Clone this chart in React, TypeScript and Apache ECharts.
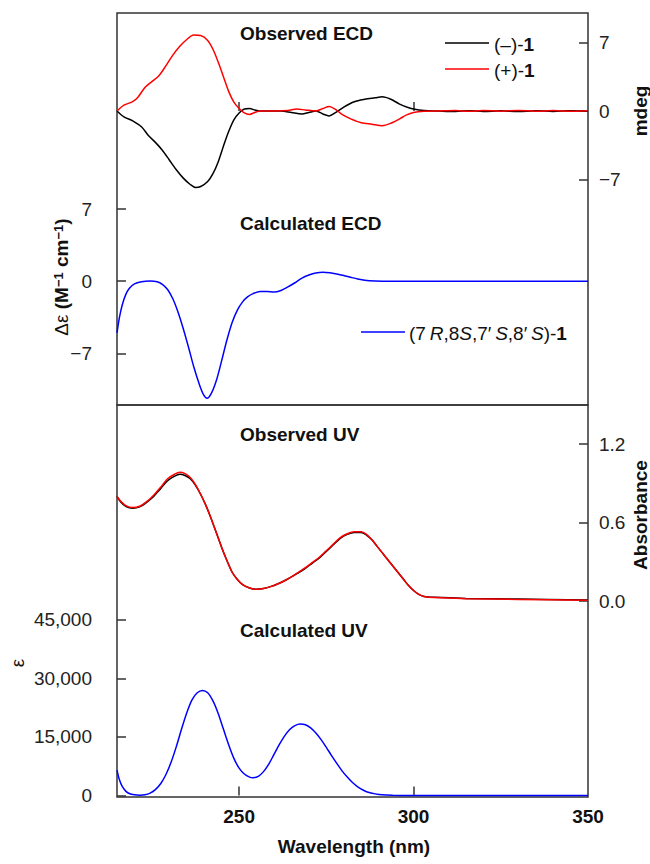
import React, { useEffect, useRef } from "react";
import * as echarts from "echarts";

// ---------------- data ----------------
const X_MIN = 215;
const X_MAX = 350;
const xTickValues = [250, 300];
const xLabelValues = [250, 300, 350];

// Observed ECD (mdeg), right axis of the upper panel
const ecdObsMinus: [number, number][] = [
  [215, 0], [217, -0.6], [219.5, -1.0], [222, -1.6], [224, -2.5], [226, -3.2], [228, -4.0],
  [230, -5.0], [232, -6.0], [234, -6.85], [236, -7.5], [237.5, -7.8], [239, -7.7], [241, -7.2],
  [242.5, -6.4], [244, -5.2], [245.5, -3.6], [247, -2.1], [248.5, -0.9], [250, -0.2],
  [251.5, 0.2], [253, 0.25], [254.5, 0.1], [256, 0], [262, 0], [265, -0.15], [268, -0.3],
  [270, -0.15], [272, 0], [274, -0.3], [275.8, -0.5], [277.5, -0.2], [280, 0.4], [283, 0.95],
  [286, 1.2], [289, 1.35], [291, 1.45], [293.5, 1.2], [296, 0.7], [298, 0.4], [300, 0.2],
  [303, 0.05], [307, 0], [312, -0.05], [316, 0.03], [320, -0.05], [325, 0.02], [330, -0.06],
  [335, 0.02], [340, -0.04], [345, 0.02], [350, -0.03],
];
const ecdObsPlus: [number, number][] = [
  [215, 0], [217, 0.6], [219.5, 0.95], [221, 1.4], [223, 2.4], [225, 3.0], [227, 3.6],
  [229, 4.6], [231, 5.7], [233, 6.6], [235, 7.3], [237, 7.75], [239, 7.7], [241, 7.2],
  [242.5, 6.3], [244, 5.0], [245.5, 3.5], [247, 2.0], [248.5, 0.9], [250, 0.25],
  [251.5, -0.2], [253, -0.35], [254.5, -0.15], [256, 0], [260, 0], [264, 0.05], [266.5, 0.2],
  [269, 0.1], [272, 0], [274, 0.25], [275.8, 0.45], [277.5, 0.2], [279.5, -0.35], [282, -0.8],
  [285, -1.2], [288, -1.35], [291, -1.5], [293.5, -1.25], [296, -0.8], [298, -0.4],
  [300, -0.15], [303, -0.03], [307, 0], [312, 0.05], [316, -0.03], [320, 0.05], [325, -0.02],
  [330, 0.06], [335, -0.02], [340, 0.04], [345, -0.02], [350, 0.03],
];

// Calculated ECD (Δε), left axis of the upper panel
const ecdCalc: [number, number][] = [
  [215, -5.0], [215.7, -3.5], [216.5, -2.3], [217.5, -1.3], [218.5, -0.7], [220, -0.25],
  [222, -0.05], [224.5, 0.02], [226.5, -0.05], [228, -0.3], [229.5, -0.8], [231, -1.7],
  [232.5, -3.0], [234, -4.6], [235.5, -6.4], [237, -8.3], [238.5, -9.9], [239.8, -11.0],
  [240.8, -11.35], [242, -10.9], [243.5, -9.6], [245, -7.7], [246.5, -5.7], [248, -4.0],
  [249.5, -2.8], [251, -2.0], [252.5, -1.5], [254, -1.2], [256, -1.0], [258, -1.0],
  [260, -1.05], [262, -0.9], [264, -0.55], [266, -0.15], [268, 0.3], [270, 0.6], [272, 0.8],
  [274, 0.87], [276, 0.82], [278, 0.7], [280, 0.55], [282, 0.38], [284, 0.22], [286, 0.1],
  [289, 0.03], [293, 0.0], [320, 0], [350, 0],
];

// Observed UV (absorbance), right axis of the lower panel
const uvObsMinus: [number, number][] = [
  [215, 0.8], [216, 0.76], [217.5, 0.725], [219.5, 0.71], [221.5, 0.72], [223.5, 0.755],
  [225.5, 0.8], [227.5, 0.86], [229.5, 0.92], [231.5, 0.955], [233, 0.97], [234.5, 0.96],
  [236, 0.935], [237.5, 0.885], [239, 0.815], [240.5, 0.73], [242, 0.63], [243.5, 0.52],
  [245, 0.41], [246.5, 0.31], [248, 0.22], [249.5, 0.165], [251, 0.125], [253, 0.1],
  [255, 0.09], [257, 0.095], [259, 0.11], [261, 0.13], [263, 0.155], [265, 0.185],
  [267, 0.215], [269, 0.25], [271, 0.29], [273, 0.33], [275, 0.38], [277, 0.43], [279, 0.48],
  [281, 0.51], [283, 0.525], [285, 0.525], [286.5, 0.505], [288, 0.47], [289.5, 0.42],
  [291, 0.37], [292.5, 0.32], [294, 0.27], [295.5, 0.22], [297, 0.17], [298.5, 0.12],
  [300, 0.08], [301.5, 0.05], [303, 0.035], [306, 0.028], [315, 0.02], [330, 0.015],
  [350, 0.008],
];
const uvObsPlus: [number, number][] = [
  [215, 0.8], [216, 0.765], [217.5, 0.73], [219.5, 0.715], [221.5, 0.725], [223.5, 0.76],
  [225.5, 0.81], [227.5, 0.87], [229.5, 0.935], [231.5, 0.97], [233, 0.985], [234.5, 0.975],
  [236, 0.945], [237.5, 0.89], [239, 0.815], [240.5, 0.73], [242, 0.63], [243.5, 0.52],
  [245, 0.41], [246.5, 0.31], [248, 0.22], [249.5, 0.165], [251, 0.125], [253, 0.1],
  [255, 0.09], [257, 0.095], [259, 0.11], [261, 0.13], [263, 0.155], [265, 0.185],
  [267, 0.22], [269, 0.255], [271, 0.295], [273, 0.335], [275, 0.385], [277, 0.435],
  [279, 0.485], [281, 0.515], [283, 0.53], [285, 0.53], [286.5, 0.51], [288, 0.47],
  [289.5, 0.42], [291, 0.37], [292.5, 0.32], [294, 0.27], [295.5, 0.22], [297, 0.17],
  [298.5, 0.12], [300, 0.08], [301.5, 0.05], [303, 0.035], [306, 0.026], [315, 0.018],
  [330, 0.012], [350, 0.005],
];

// Calculated UV (ε), left axis of the lower panel
const uvCalc: [number, number][] = [
  [215, 6500], [215.7, 4000], [216.5, 2300], [217.5, 1100], [218.5, 500], [220, 150],
  [221.5, 50], [223, 150], [224.5, 600], [226, 1500], [227.5, 3000], [229, 5300], [230.5, 8500],
  [232, 12500], [233.5, 17000], [235, 21200], [236.5, 24500], [238, 26300], [239.5, 26900],
  [241, 26300], [242.5, 24200], [244, 21000], [245.5, 17000], [247, 13000], [248.5, 9500],
  [250, 7000], [251.5, 5500], [253, 4700], [254, 4550], [255.5, 4900], [257, 6100],
  [258.5, 8000], [260, 10500], [261.5, 13000], [263, 15200], [264.5, 16900], [266, 17900],
  [267.5, 18300], [269, 18100], [270.5, 17300], [272, 16000], [273.5, 14300], [275, 12300],
  [276.5, 10200], [278, 8200], [279.5, 6300], [281, 4700], [282.5, 3300], [284, 2200],
  [285.5, 1400], [287, 800], [289, 400], [291, 150], [294, 50], [300, 0], [350, 0],
];

const ecdTicks = [-7, 0, 7];
const absTicks = [0, 0.6, 1.2];
const epsTicks = [0, 15000, 30000, 45000];

// ---------------- chart ----------------
const FONT = '"Liberation Sans", Arial, sans-serif';
const AX = "#333";

function minusFmt(v: number) {
  return v < 0 ? "\u2212" + Math.abs(v) : String(v);
}

export default function App() {
  const ref = useRef<HTMLDivElement>(null);
  useEffect(() => {
    if (!ref.current) return;
    const chart = echarts.init(ref.current, null, { renderer: "svg" });
    const top = { left: 117, top: 13, width: 471, height: 392 };
    const bot = { left: 117, top: 405, width: 471, height: 392 };
    const tick = (vals: number[]) => ({
      show: true, inside: true, length: 9, customValues: vals,
      lineStyle: { color: AX, width: 1.5 },
    });
    const label = (vals: number[], margin: number, formatter: any) => ({
      show: true, customValues: vals, margin, formatter,
      fontSize: 19, color: "#222", fontFamily: FONT,
    });
    const line = (name: string, data: any, color: string, xi: number, yi: number) => ({
      type: "line", name, data, xAxisIndex: xi, yAxisIndex: yi,
      showSymbol: false, symbol: "none", smooth: 0.3,
      lineStyle: { color, width: 1.5 }, itemStyle: { color },
      emphasis: { disabled: true }, silent: true,
    });
    const txt = (x: number, y: number, text: string, opts: any = {}) => ({
      type: "text", x, y, rotation: opts.rotation || 0, silent: true,
      style: {
        text, x: 0, y: 0, fill: "#111",
        fontSize: opts.fontSize || 19, fontWeight: opts.fontWeight || "bold", fontFamily: FONT,
        align: opts.align || "left", verticalAlign: "middle",
        textAlign: opts.align || "left", textVerticalAlign: "middle",
        rich: opts.rich,
      },
    });
    const richBase = {
      r: { fontSize: 19, fontFamily: FONT, fill: "#111", color: "#111" },
      b: { fontSize: 19, fontFamily: FONT, fontWeight: "bold", fill: "#111", color: "#111" },
      i: { fontSize: 19, fontFamily: FONT, fontStyle: "italic", fill: "#111", color: "#111" },
      s: { fontSize: 13, fontFamily: FONT, fontWeight: "bold", fill: "#111", color: "#111", verticalAlign: "top" },
    };
    const option: any = {
      animation: false,
      grid: [
        { ...top, show: true, borderColor: AX, borderWidth: 1.5, backgroundColor: "transparent", outerBoundsMode: "none" },
        { ...top, outerBoundsMode: "none" },
        { ...bot, show: true, borderColor: AX, borderWidth: 1.5, backgroundColor: "transparent", outerBoundsMode: "none" },
        { ...bot, outerBoundsMode: "none" },
      ],
      xAxis: [0, 1, 2, 3].map((i) => ({
        type: "value", gridIndex: i, min: X_MIN, max: X_MAX, position: "bottom",
        show: i === 0 || i === 3,
        axisLine: { show: false },
        splitLine: { show: false },
        axisTick: tick(xTickValues),
        axisLabel: i === 3
          ? { ...label(xLabelValues, 10, (v: number) => String(v)), fontWeight: "bold", color: "#111" }
          : { show: false },
      })),
      yAxis: [
        {
          type: "value", gridIndex: 0, position: "right", min: -30, max: 10,
          axisLine: { show: false }, splitLine: { show: false },
          axisTick: tick(ecdTicks), axisLabel: label(ecdTicks, 11, minusFmt),
        },
        {
          type: "value", gridIndex: 1, position: "left", min: -12, max: 26,
          axisLine: { show: false }, splitLine: { show: false },
          axisTick: tick(ecdTicks), axisLabel: label(ecdTicks, 25, minusFmt),
        },
        {
          type: "value", gridIndex: 2, position: "right", min: -1.5, max: 1.5,
          axisLine: { show: false }, splitLine: { show: false },
          axisTick: tick(absTicks), axisLabel: label(absTicks, 11, (v: number) => v.toFixed(1)),
        },
        {
          type: "value", gridIndex: 3, position: "left", min: -400, max: 100000,
          axisLine: { show: false }, splitLine: { show: false },
          axisTick: tick(epsTicks),
          axisLabel: label(epsTicks, 25, (v: number) => v.toLocaleString("en-US")),
        },
      ],
      series: [
        line("(−)-1", ecdObsMinus, "#000000", 0, 0),
        line("(+)-1", ecdObsPlus, "#ff0000", 0, 0),
        line("(7R,8S,7'S,8'S)-1", ecdCalc, "#0000ff", 1, 1),
        line("UV (−)-1", uvObsMinus, "#000000", 2, 2),
        line("UV (+)-1", uvObsPlus, "#ff0000", 2, 2),
        line("UV calc", uvCalc, "#0000ff", 3, 3),
      ],
      graphic: [
        txt(240, 33, "Observed ECD"),
        txt(240, 223, "Calculated ECD"),
        txt(240, 434, "Observed UV"),
        txt(240, 630, "Calculated UV"),
        txt(354, 846, "Wavelength (nm)", { align: "center" }),
        // legends
        { type: "line", shape: { x1: 445, y1: 43, x2: 489, y2: 43 }, style: { stroke: "#000", lineWidth: 1.5 } },
        { type: "line", shape: { x1: 445, y1: 69, x2: 489, y2: 69 }, style: { stroke: "#ff0000", lineWidth: 1.5 } },
        txt(494, 44, "{r|(\u2013)-}{b|1}", { rich: richBase, fontWeight: "normal" }),
        txt(494, 70, "{r|(+)-}{b|1}", { rich: richBase, fontWeight: "normal" }),
        { type: "line", shape: { x1: 361, y1: 332, x2: 405, y2: 332 }, style: { stroke: "#0000ff", lineWidth: 1.5 } },
        txt(409, 333, "{r|(7}{i|\u2009R}{r|,8}{i|S}{r|,7\u2032\u2009}{i|S}{r|,8\u2032\u2009}{i|S}{r|)-}{b|1}", { rich: richBase, fontWeight: "normal" }),
        // axis titles
        txt(61, 277, "{r|\u0394\u03b5 }{b|(M}{s|\u22121}{b| cm}{s|\u22121}{b|)}", { rich: richBase, rotation: Math.PI / 2, align: "center", fontWeight: "normal" }),
        txt(640, 111, "mdeg", { rotation: Math.PI / 2, align: "center" }),
        txt(640, 515, "Absorbance", { rotation: Math.PI / 2, align: "center" }),
        txt(17, 663, "\u03b5", { rotation: Math.PI / 2, align: "center", fontWeight: "normal" }),
      ],
    };
    chart.setOption(option);
    return () => chart.dispose();
  }, []);
  return (
    <div
      ref={ref}
      style={{ position: "fixed", left: 0, top: 0, width: 650, height: 864, background: "#fff" }}
    />
  );
}
